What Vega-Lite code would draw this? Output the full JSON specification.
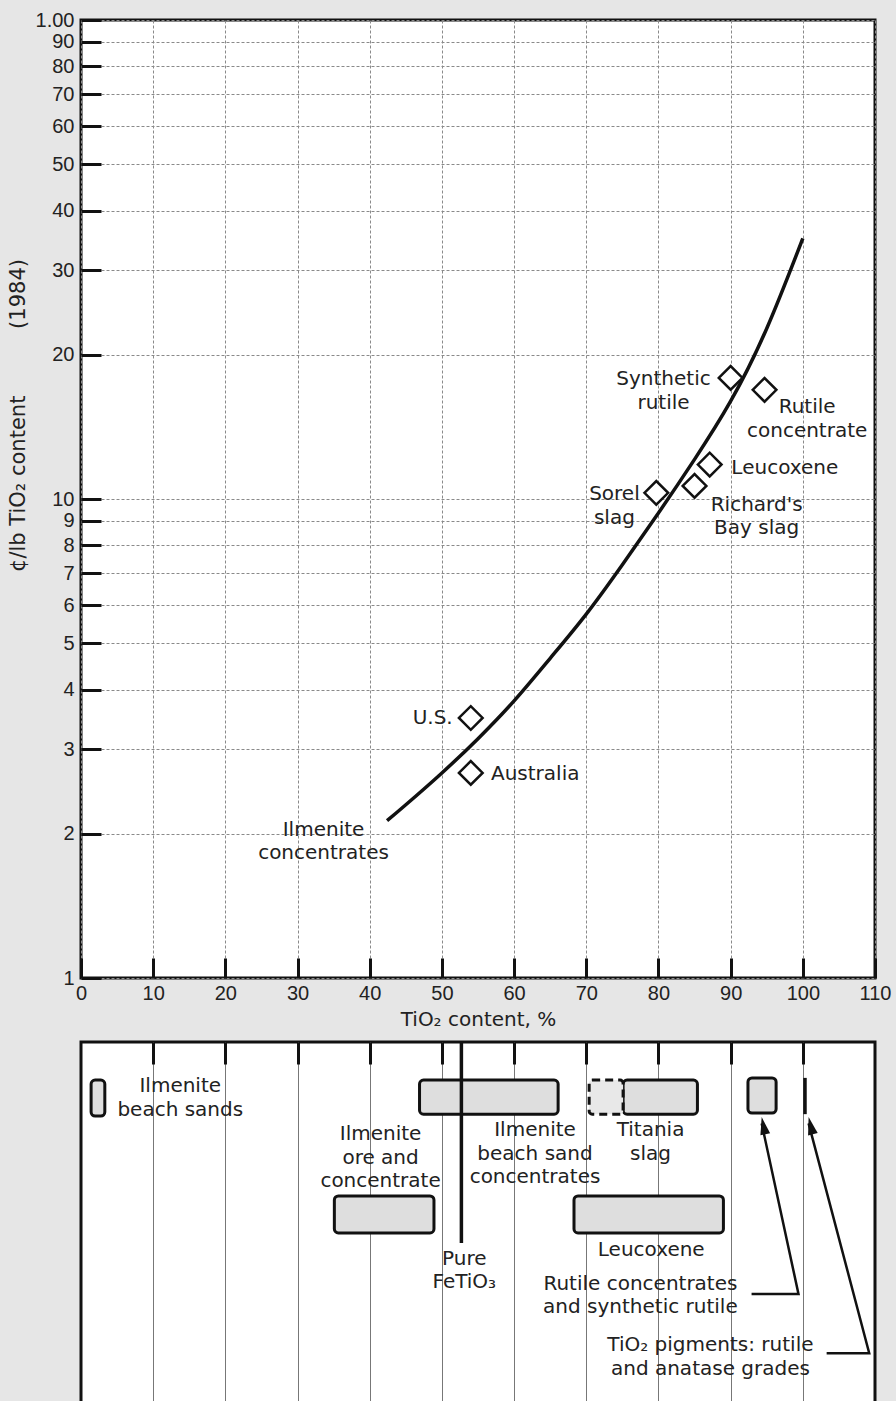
{
  "$schema": "https://vega.github.io/schema/vega-lite/v6.json",
  "background": "#e6e6e6",
  "padding": {"left": 5, "top": 8, "right": 5, "bottom": 0},
  "spacing": 7,
  "resolve": {"scale": {"x": "independent", "y": "independent"}},
  "config": {
    "view": {"stroke": "#111", "strokeWidth": 3, "fill": "white"},
    "font": "DejaVu Sans",
    "axis": {
      "labelFont": "Liberation Sans", "labelFontSize": 20, "labelColor": "#222",
      "titleFont": "DejaVu Sans", "titleFontSize": 20, "titleFontWeight": "normal", "titleColor": "#222",
      "domain": false, "tickColor": "#111", "tickWidth": 3,
      "gridColor": "#8a8a8a", "gridWidth": 1, "gridDash": [3, 2], "gridOpacity": 1,
      "labelFlush": false, "labelOverlap": false
    },
    "text": {"font": "DejaVu Sans", "fontSize": 20, "color": "#222", "lineHeight": 23.5}
  },
  "vconcat": [
    {
      "width": 794,
      "height": 958,
      "layer": [
        {
          "data": {"values": [
            {"tio2": 42.4, "cost": 2.13},
            {"tio2": 45, "cost": 2.3},
            {"tio2": 50, "cost": 2.68},
            {"tio2": 55, "cost": 3.16},
            {"tio2": 60, "cost": 3.79},
            {"tio2": 65, "cost": 4.65},
            {"tio2": 70, "cost": 5.75},
            {"tio2": 75, "cost": 7.29},
            {"tio2": 80, "cost": 9.35},
            {"tio2": 85, "cost": 12.1},
            {"tio2": 90, "cost": 16.0},
            {"tio2": 95, "cost": 22.7},
            {"tio2": 100, "cost": 35}
          ]},
          "mark": {"type": "line", "color": "#111", "strokeWidth": 3.5, "interpolate": "natural"},
          "encoding": {
            "x": {
              "field": "tio2", "type": "quantitative",
              "scale": {"domain": [0, 110], "nice": false, "zero": false},
              "axis": {
                "values": [0, 10, 20, 30, 40, 50, 60, 70, 80, 90, 100, 110],
                "tickSize": -20, "labelPadding": 25, "grid": true,
                "title": "TiO₂ content, %", "titlePadding": 6
              }
            },
            "y": {
              "field": "cost", "type": "quantitative",
              "scale": {"type": "log", "domain": [1, 100], "nice": false},
              "axis": {
                "values": [1, 2, 3, 4, 5, 6, 7, 8, 9, 10, 20, 30, 40, 50, 60, 70, 80, 90, 100],
                "format": "d",
                "labelExpr": "datum.value == 100 ? '1.00' : datum.label",
                "tickSize": -20, "labelPadding": 27, "grid": true,
                "title": "¢/lb TiO₂ content\u00a0\u00a0\u00a0\u00a0\u00a0\u00a0\u00a0\u00a0\u00a0\u00a0(1984)",
                "titleFontSize": 21, "titleX": -63, "titleY": 395,
                "titleAlign": "center", "titleBaseline": "middle", "titleAngle": -90
              }
            }
          }
        },
        {
          "data": {"values": [
            {"source": "Synthetic rutile", "tio2": 90, "cost": 17.9},
            {"source": "Rutile concentrate", "tio2": 94.7, "cost": 16.9},
            {"source": "Leucoxene", "tio2": 87.1, "cost": 11.8},
            {"source": "Richard's Bay slag", "tio2": 85, "cost": 10.65},
            {"source": "Sorel slag", "tio2": 79.7, "cost": 10.3},
            {"source": "U.S.", "tio2": 54, "cost": 3.49},
            {"source": "Australia", "tio2": 54, "cost": 2.68}
          ]},
          "mark": {"type": "point", "shape": "diamond", "filled": true, "fill": "white", "stroke": "#111", "strokeWidth": 2.5, "size": 560, "opacity": 1},
          "encoding": {
            "x": {"field": "tio2", "type": "quantitative"},
            "y": {"field": "cost", "type": "quantitative"}
          }
        },
        {
          "data": {"values": [
            {"label": ["Synthetic", "rutile"], "tio2": 80.7, "cost": 17.8},
            {"label": ["Rutile", "concentrate"], "tio2": 100.6, "cost": 15.56},
            {"label": ["Sorel", "slag"], "tio2": 73.9, "cost": 10.24},
            {"label": ["Richard's", "Bay slag"], "tio2": 93.6, "cost": 9.72},
            {"label": ["Ilmenite", "concentrates"], "tio2": 33.6, "cost": 2.037}
          ]},
          "mark": {"type": "text", "align": "center", "baseline": "middle"},
          "encoding": {
            "x": {"field": "tio2", "type": "quantitative"},
            "y": {"field": "cost", "type": "quantitative"},
            "text": {"field": "label"}
          }
        },
        {
          "data": {"values": [
            {"label": "Leucoxene", "tio2": 90.1, "cost": 11.6},
            {"label": "Australia", "tio2": 56.8, "cost": 2.67}
          ]},
          "mark": {"type": "text", "align": "left", "baseline": "middle"},
          "encoding": {
            "x": {"field": "tio2", "type": "quantitative"},
            "y": {"field": "cost", "type": "quantitative"},
            "text": {"field": "label"}
          }
        },
        {
          "data": {"values": [
            {"label": "U.S.", "tio2": 51.5, "cost": 3.49}
          ]},
          "mark": {"type": "text", "align": "right", "baseline": "middle"},
          "encoding": {
            "x": {"field": "tio2", "type": "quantitative"},
            "y": {"field": "cost", "type": "quantitative"},
            "text": {"field": "label"}
          }
        }
      ]
    },
    {
      "width": 794,
      "height": 370,
      "layer": [
        {
          "data": {"values": [
            {"item": "Ilmenite beach sands", "lo": 1.4, "hi": 3.3, "top": 1.03, "bottom": 2.0},
            {"item": "Ilmenite beach sand concentrates", "lo": 46.9, "hi": 66.1, "top": 1.03, "bottom": 1.95},
            {"item": "Titania slag", "lo": 75.1, "hi": 85.4, "top": 1.03, "bottom": 1.95},
            {"item": "Rutile concentrates and synthetic rutile", "lo": 92.4, "hi": 96.3, "top": 0.97, "bottom": 1.92},
            {"item": "Ilmenite ore and concentrate", "lo": 35.1, "hi": 48.9, "top": 4.16, "bottom": 5.16},
            {"item": "Leucoxene", "lo": 68.3, "hi": 89.0, "top": 4.16, "bottom": 5.16}
          ]},
          "mark": {"type": "rect", "fill": "#dedede", "stroke": "#111", "strokeWidth": 3, "cornerRadius": 4},
          "encoding": {
            "x": {
              "field": "lo", "type": "quantitative",
              "scale": {"domain": [0, 110], "nice": false, "zero": false},
              "axis": {
                "orient": "top", "values": [10, 20, 30, 40, 50, 60, 70, 80, 90, 100],
                "labels": false, "title": null, "tickSize": -22, "grid": true,
                "gridDash": [], "gridColor": "#777", "gridWidth": 1
              }
            },
            "x2": {"field": "hi"},
            "y": {"field": "top", "type": "quantitative", "scale": {"domain": [0, 10], "reverse": true, "nice": false, "zero": false}, "axis": null},
            "y2": {"field": "bottom"}
          }
        },
        {
          "data": {"values": [
            {"item": "Titania slag (lower range)", "lo": 70.4, "hi": 75.1, "top": 1.03, "bottom": 1.95}
          ]},
          "mark": {"type": "rect", "fill": "#e8e8e8", "stroke": "#111", "strokeWidth": 3, "strokeDash": [8, 5], "cornerRadius": 3},
          "encoding": {
            "x": {"field": "lo", "type": "quantitative"},
            "x2": {"field": "hi"},
            "y": {"field": "top", "type": "quantitative"},
            "y2": {"field": "bottom"}
          }
        },
        {
          "data": {"values": [
            {"item": "Pure FeTiO3", "tio2": 52.7, "top": 0, "bottom": 5.43},
            {"item": "TiO2 pigments", "tio2": 100.3, "top": 0.97, "bottom": 1.95}
          ]},
          "mark": {"type": "rule", "color": "#111", "strokeWidth": 3.5},
          "encoding": {
            "x": {"field": "tio2", "type": "quantitative"},
            "y": {"field": "top", "type": "quantitative"},
            "y2": {"field": "bottom"}
          }
        },
        {
          "data": {"values": [
            {"arrow": "rutile", "ord": 1, "tio2": 92.9, "pos": 6.81},
            {"arrow": "rutile", "ord": 2, "tio2": 99.4, "pos": 6.81},
            {"arrow": "rutile", "ord": 3, "tio2": 94.3, "pos": 2.2},
            {"arrow": "pigment", "ord": 1, "tio2": 103.3, "pos": 8.41},
            {"arrow": "pigment", "ord": 2, "tio2": 109.2, "pos": 8.41},
            {"arrow": "pigment", "ord": 3, "tio2": 100.8, "pos": 2.2}
          ]},
          "mark": {"type": "line", "color": "#111", "strokeWidth": 2.5},
          "encoding": {
            "x": {"field": "tio2", "type": "quantitative"},
            "y": {"field": "pos", "type": "quantitative"},
            "detail": {"field": "arrow"},
            "order": {"field": "ord"}
          }
        },
        {
          "data": {"values": [{"arrow": "rutile", "tio2": 94.3, "pos": 2.03}]},
          "mark": {"type": "point", "shape": "M0,0L0.45,1.6L-0.45,1.6Z", "filled": true, "color": "#111", "size": 484, "angle": -11.8, "opacity": 1},
          "encoding": {
            "x": {"field": "tio2", "type": "quantitative"},
            "y": {"field": "pos", "type": "quantitative"}
          }
        },
        {
          "data": {"values": [{"arrow": "pigment", "tio2": 100.8, "pos": 2.03}]},
          "mark": {"type": "point", "shape": "M0,0L0.45,1.6L-0.45,1.6Z", "filled": true, "color": "#111", "size": 484, "angle": -14.1, "opacity": 1},
          "encoding": {
            "x": {"field": "tio2", "type": "quantitative"},
            "y": {"field": "pos", "type": "quantitative"}
          }
        },
        {
          "data": {"values": [
            {"label": ["Ilmenite", "beach sands"], "tio2": 13.75, "pos": 1.19},
            {"label": ["Ilmenite", "ore and", "concentrate"], "tio2": 41.5, "pos": 2.49},
            {"label": ["Ilmenite", "beach sand", "concentrates"], "tio2": 62.9, "pos": 2.38},
            {"label": ["Titania", "slag"], "tio2": 78.9, "pos": 2.38},
            {"label": "Leucoxene", "tio2": 79.0, "pos": 5.62},
            {"label": ["Pure", "FeTiO₃"], "tio2": 53.1, "pos": 5.86},
            {"label": ["Rutile concentrates", "and synthetic rutile"], "tio2": 77.5, "pos": 6.54},
            {"label": ["TiO₂ pigments: rutile", "and anatase grades"], "tio2": 87.2, "pos": 8.19}
          ]},
          "mark": {"type": "text", "align": "center", "baseline": "middle"},
          "encoding": {
            "x": {"field": "tio2", "type": "quantitative"},
            "y": {"field": "pos", "type": "quantitative"},
            "text": {"field": "label"}
          }
        }
      ]
    }
  ]
}
